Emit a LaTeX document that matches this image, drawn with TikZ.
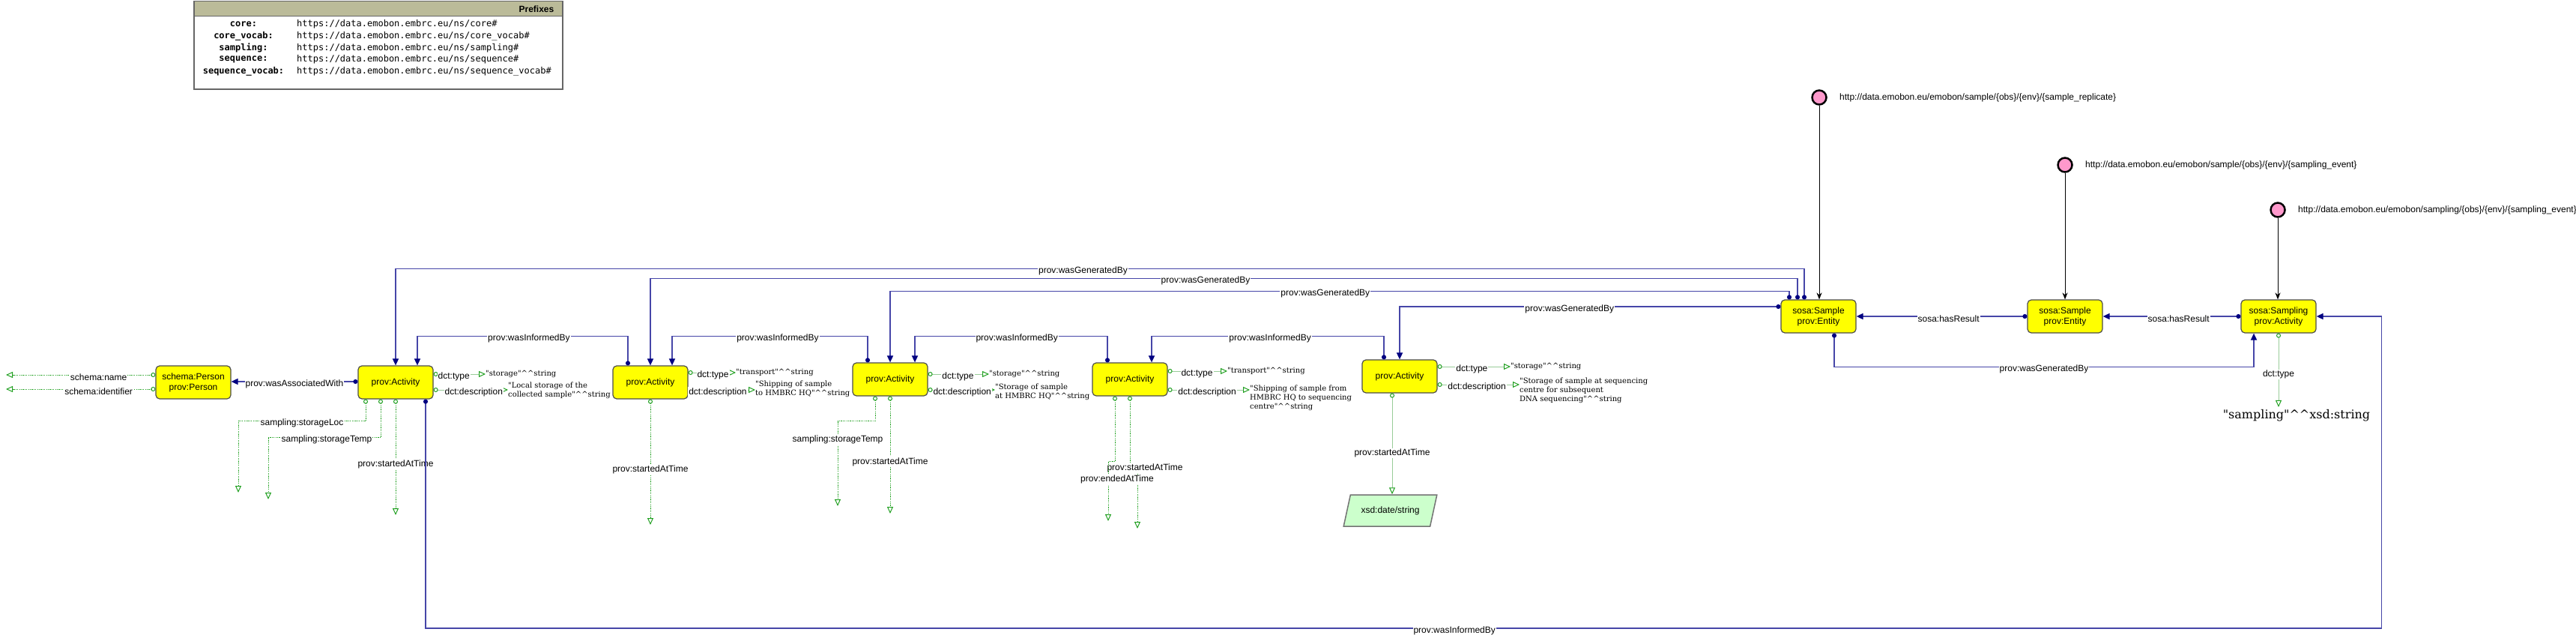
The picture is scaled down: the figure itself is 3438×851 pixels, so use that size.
\documentclass[tikz,border=0pt]{standalone}
\usepackage{fontspec}
\setmainfont{Liberation Sans}
\setmonofont{DejaVu Sans Mono}
\newfontfamily\litfont{DejaVu Serif}
\usetikzlibrary{arrows.meta,shapes.geometric}
\definecolor{boxyellow}{HTML}{FFFF00}
\definecolor{navyline}{HTML}{4646A8}
\definecolor{navytip}{HTML}{000080}
\definecolor{dgreen}{HTML}{22A022}
\definecolor{lgreen}{HTML}{99CC99}
\definecolor{irifill}{HTML}{FF99CC}
\definecolor{hdrfill}{HTML}{BBBB99}
\definecolor{dtfill}{HTML}{CCFFCC}
\def\boxw{100pt}
\def\boxh{44pt}
\def\cc{\textasciicircum\textasciicircum}

\begin{document}
\fontsize{12}{14}\selectfont
\begin{tikzpicture}[x=1pt,y=-1pt,
    cls/.style={draw=black!70,line width=1.2pt,fill=boxyellow,rounded corners=5pt,
      minimum width=\boxw,minimum height=\boxh,inner sep=0pt,align=center},
    objprop/.style={draw=navyline,line width=1.6pt,
      arrows={Circle[length=6pt,color=navytip]-Triangle[length=9pt,width=8pt,color=navytip]}},
    dprop/.style={draw=lgreen,line width=1pt,
      arrows={Circle[open,length=6pt,color=dgreen]-Triangle[open,length=9pt,width=8pt,color=dgreen]}},
    dotprop/.style={dprop,draw=dgreen,dash pattern=on 1.2pt off 1.2pt},
    typearr/.style={draw=black,line width=1pt,-{Stealth[length=9pt,width=7pt]}},
    iri/.style={circle,draw=black,line width=2.5pt,fill=irifill,minimum size=19pt,inner sep=0pt},
    iritext/.style={anchor=west,inner sep=0pt},
    elabel/.style={fill=white,inner sep=1pt,yshift=-3pt},
    lit/.style={font=\litfont\fontsize{10}{12}\selectfont,inner sep=0pt,anchor=west,align=left}
  ]
  \useasboundingbox[fill=white] (0,0) rectangle (3438,851);

  \node[draw=black!60,line width=1.5pt,minimum width=492pt,minimum height=117pt,anchor=north west,inner sep=0pt] (pfxbox) at (258,1) {};
  \node[draw=black!60,line width=1.5pt,fill=hdrfill,minimum width=492pt,minimum height=20pt,anchor=north west,inner sep=0pt] (pfxhead) at (258,1) {};
  \node[anchor=east,font=\bfseries] (pfxtitle) at ([xshift=-8pt]pfxhead.east) {Prefixes};
  \foreach \k/\v [count=\i] in {core/core,core\_vocab/core\_vocab,sampling/sampling,sequence/sequence,sequence\_vocab/sequence\_vocab}{
    \node[font=\ttfamily\bfseries] (pk\i) at (325,17+15.6*\i) {\k:};
    \node[anchor=west,font=\ttfamily] (pv\i) at (392,17+15.6*\i) {https://data.emobon.embrc.eu/ns/\v\#};
  }

  \node[cls] (person) at (258,510) {schema:Person\\prov:Person};
  \node[cls] (act1) at (528,510) {prov:Activity};
  \node[cls] (act2) at (868,510) {prov:Activity};
  \node[cls] (act3) at (1188,506) {prov:Activity};
  \node[cls] (act4) at (1508,506) {prov:Activity};
  \node[cls] (act5) at (1868,502) {prov:Activity};
  \node[cls] (smp1) at (2427,422) {sosa:Sample\\prov:Entity};
  \node[cls] (smp2) at (2756,422) {sosa:Sample\\prov:Entity};
  \node[cls] (smpl) at (3041,422) {sosa:Sampling\\prov:Activity};

  \node[iri] (iri1) at (2428,130) {};
  \node[iritext] (iri1t) at (2455,130) {http://data.emobon.eu/emobon/sample/\{obs\}/\{env\}/\{sample\_replicate\}};
  \node[iri] (iri2) at (2756,220) {};
  \node[iritext] (iri2t) at (2783,220) {http://data.emobon.eu/emobon/sample/\{obs\}/\{env\}/\{sampling\_event\}};
  \node[iri] (iri3) at (3040,280) {};
  \node[iritext] (iri3t) at (3067,280) {http://data.emobon.eu/emobon/sampling/\{obs\}/\{env\}/\{sampling\_event\}};

  \draw[typearr] (iri1) -- (iri1 |- smp1.north);
  \draw[typearr] (iri2) -- (iri2 |- smp2.north);
  \draw[typearr] (iri3) -- (iri3 |- smpl.north);

  \node[lit] (a1type) at (648,499) {"storage"\cc string};
  \node[lit] (a1desc) at (678,521) {"Local storage of the\\collected sample"\cc string};
  \node[lit] (a2type) at (982,497) {"transport"\cc string};
  \node[lit] (a2desc) at (1008,519) {"Shipping of sample\\to HMBRC HQ"\cc string};
  \node[lit] (a3type) at (1320,499) {"storage"\cc string};
  \node[lit] (a3desc) at (1328,523) {"Storage of sample\\at HMBRC HQ"\cc string};
  \node[lit] (a4type) at (1638,495) {"transport"\cc string};
  \node[lit] (a4desc) at (1668,531) {"Shipping of sample from\\HMBRC HQ to sequencing\\centre"\cc string};
  \node[lit] (a5type) at (2016,489) {"storage"\cc string};
  \node[lit] (a5desc) at (2028,521) {"Storage of sample at sequencing\\centre for subsequent\\DNA sequencing"\cc string};
  \node[lit,anchor=center,inner sep=3pt,font=\litfont\fontsize{16}{19}\selectfont] (sgtype) at (3065,554) {"sampling"\cc xsd:string};

  \node[trapezium,trapezium left angle=59,trapezium right angle=121,trapezium stretches=true,
    minimum width=125pt,minimum height=42pt,draw=black!55,line width=1.5pt,fill=dtfill,inner sep=0pt] (dt) at (1855.5,681) {xsd:date/string};

  \coordinate (pnameEnd) at (8,500);
  \coordinate (pidEnd) at (8,519);
  \draw[dotprop] ([yshift=10pt]person.west) -- node[elabel,pos=.38]{schema:name} (pnameEnd);
  \draw[dotprop] ([yshift=-9pt]person.west) -- node[elabel,pos=.38]{schema:identifier} (pidEnd);
  \draw[objprop] ([yshift=1pt]act1.west) -- node[elabel,pos=.5]{prov:wasAssociatedWith} ([yshift=1pt]person.east);

  \coordinate (a1t) at ([yshift=11pt]act1.east);
  \coordinate (a1d) at ([yshift=-10pt]act1.east);
  \draw[dprop] (a1t) -- node[elabel,pos=.39]{dct:type} (a1type.west |- a1t);
  \draw[dprop] (a1d) -- node[elabel,pos=.54]{dct:description} (a1desc.west |- a1d);
  \coordinate (a2t) at ([yshift=13pt]act2.east);
  \coordinate (a2d) at ([yshift=-10pt]act2.east);
  \draw[dprop] (a2t) -- node[elabel,pos=.52]{dct:type} (a2type.west |- a2t);
  \draw[dprop] (a2d) -- node[elabel,pos=.44]{dct:description} (a2desc.west |- a2d);
  \coordinate (a3t) at ([yshift=7pt]act3.east);
  \coordinate (a3d) at ([yshift=-14pt]act3.east);
  \draw[dprop] (a3t) -- node[elabel,pos=.49]{dct:type} (a3type.west |- a3t);
  \draw[dprop] (a3d) -- node[elabel,pos=.51]{dct:description} (a3desc.west |- a3d);
  \coordinate (a4t) at ([yshift=11pt]act4.east);
  \coordinate (a4d) at ([yshift=-14pt]act4.east);
  \draw[dprop] (a4t) -- node[elabel,pos=.49]{dct:type} (a4type.west |- a4t);
  \draw[dprop] (a4d) -- node[elabel,pos=.48]{dct:description} (a4desc.west |- a4d);
  \coordinate (a5t) at ([yshift=13pt]act5.east);
  \coordinate (a5d) at ([yshift=-11pt]act5.east);
  \draw[dprop] (a5t) -- node[elabel,pos=.47]{dct:type} (a5type.west |- a5t);
  \draw[dprop] (a5d) -- node[elabel,pos=.48]{dct:description} (a5desc.west |- a5d);

  \coordinate (a1locEnd) at (318,657);
  \coordinate (a1tmpEnd) at (358,666);
  \coordinate (a1staEnd) at (528,687);
  \draw[dotprop] ([xshift=-40pt]act1.south) -- ++(0,29) -| node[elabel,pos=.25]{sampling:storageLoc} (a1locEnd);
  \draw[dotprop] ([xshift=-20pt]act1.south) -- ++(0,51) -| node[elabel,pos=.24]{sampling:storageTemp} (a1tmpEnd);
  \draw[dotprop] (act1.south) -- node[elabel,pos=.54]{prov:startedAtTime} (a1staEnd);
  \coordinate (a2staEnd) at (868,700);
  \draw[dotprop] (act2.south) -- node[elabel,pos=.54]{prov:startedAtTime} (a2staEnd);
  \coordinate (a3tmpEnd) at (1118,675);
  \coordinate (a3staEnd) at (1188,685);
  \draw[dotprop] ([xshift=-20pt]act3.south) -- ++(0,33) -- ++(-50,0) -- node[elabel,pos=.19]{sampling:storageTemp} (a3tmpEnd);
  \draw[dotprop] (act3.south) -- node[elabel,pos=.54]{prov:startedAtTime} (a3staEnd);
  \coordinate (a4staEnd) at (1518,705);
  \coordinate (a4endEnd) at (1479,695);
  \draw[dotprop] (act4.south) -- ++(0,93) -- ++(10,0) node[elabel,xshift=10pt]{prov:startedAtTime} -- (a4staEnd);
  \draw[dotprop] ([xshift=-20pt]act4.south) -- ++(0,87) -- ++(-9,0) -- node[elabel,pos=.26,xshift=12pt]{prov:endedAtTime} (a4endEnd);
  \coordinate (a5st) at ([xshift=-10pt]act5.south);
  \draw[dprop] (a5st) -- node[elabel,pos=.57]{prov:startedAtTime} (a5st |- dt.north);
  \draw[dprop] (smpl.south) -- node[elabel,pos=.53]{dct:type} (smpl.south |- sgtype.north);

  \draw[objprop] ([xshift=-19pt]smp1.north) |- node[elabel,pos=.756]{prov:wasGeneratedBy} ([yshift=129pt]act1.north) -- (act1.north);
  \draw[objprop] ([xshift=-28pt]smp1.north) |- node[elabel,pos=.758]{prov:wasGeneratedBy} ([yshift=116pt]act2.north) -- (act2.north);
  \draw[objprop] ([xshift=-39pt]smp1.north) |- node[elabel,pos=.758]{prov:wasGeneratedBy} ([yshift=95pt]act3.north) -- (act3.north);
  \draw[objprop] ([yshift=13pt]smp1.west) -| node[elabel,pos=.277]{prov:wasGeneratedBy} (act5.north);
  \draw[objprop] ([xshift=21pt]smp1.south) |- node[elabel,pos=.75]{prov:wasGeneratedBy} ([xshift=-33pt,yshift=-45pt]smpl.south) -- ([xshift=-33pt]smpl.south);

  \draw[objprop] ([xshift=-30pt]act2.north) |- node[elabel,pos=.735]{prov:wasInformedBy} ([xshift=29pt,yshift=39pt]act1.north) -- ([xshift=29pt]act1.north);
  \draw[objprop] ([xshift=-30pt]act3.north) |- node[elabel,pos=.73]{prov:wasInformedBy} ([xshift=29pt,yshift=39pt]act2.north) -- ([xshift=29pt]act2.north);
  \draw[objprop] ([xshift=-30pt]act4.north) |- node[elabel,pos=.735]{prov:wasInformedBy} ([xshift=33pt,yshift=35pt]act3.north) -- ([xshift=33pt]act3.north);
  \draw[objprop] ([xshift=-21pt]act5.north) |- node[elabel,pos=.745]{prov:wasInformedBy} ([xshift=29pt,yshift=35pt]act4.north) -- ([xshift=29pt]act4.north);
  \draw[objprop] ([xshift=40pt]act1.south) |- node[elabel,pos=.763]{prov:wasInformedBy} ([xshift=87pt,yshift=-416pt]smpl.east) |- (smpl.east);

  \draw[objprop] (smp2.west) -- node[elabel,pos=.46]{sosa:hasResult} (smp1.east);
  \draw[objprop] (smpl.west) -- node[elabel,pos=.45]{sosa:hasResult} (smp2.east);
\end{tikzpicture}
\end{document}
